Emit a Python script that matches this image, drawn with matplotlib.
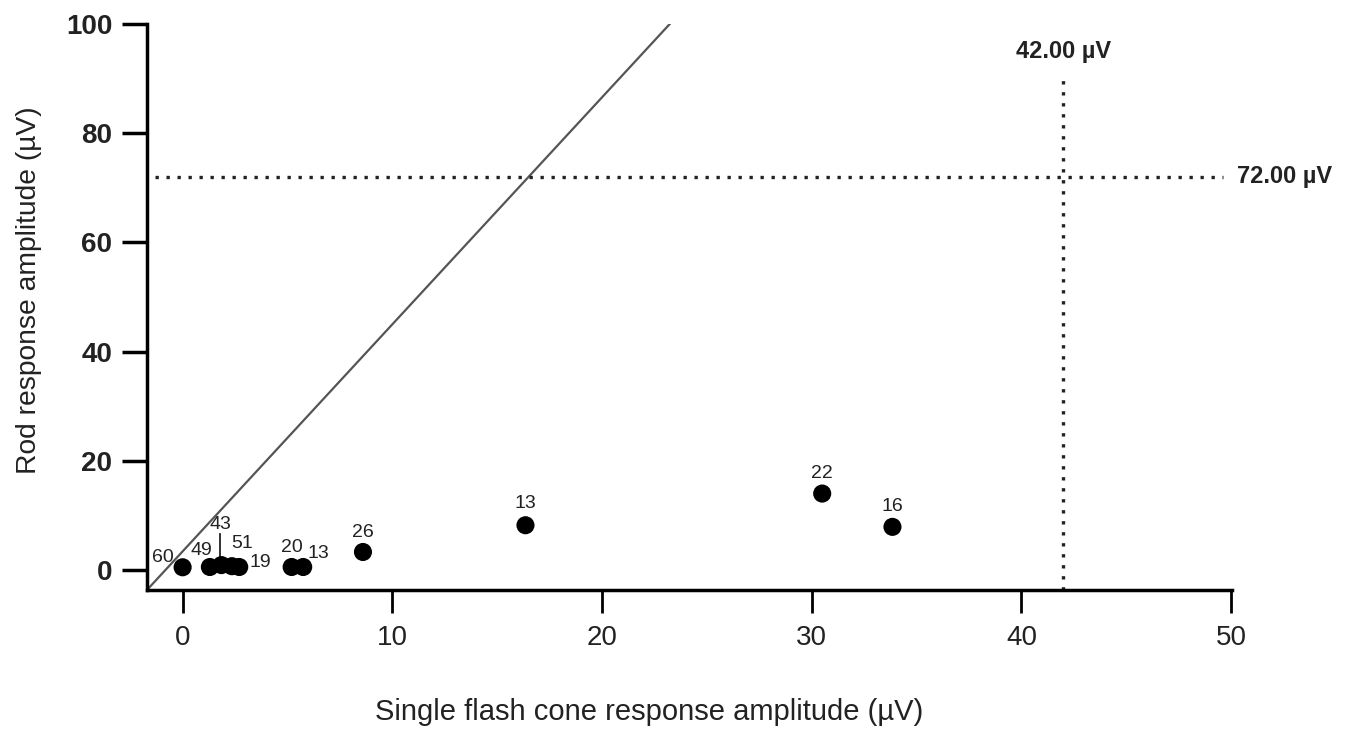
import numpy as np
import matplotlib
matplotlib.use('agg')
import matplotlib.pyplot as plt

plt.rcParams['font.family'] = ['Liberation Sans', 'DejaVu Sans']

## Data
cone_amp = [0.0, 1.3, 1.85, 2.35, 2.7, 5.2, 5.75, 8.6, 16.35, 30.5, 33.85]
rod_amp = [0.5, 0.55, 0.9, 0.7, 0.55, 0.55, 0.55, 3.3, 8.2, 14.0, 7.9]
ages = ['60', '49', '43', '51', '19', '20', '13', '26', '13', '22', '16']
# label offsets in points (dx, dy)
label_off = [(-14, 7), (-6, 12), (-1, 29), (7, 16.5), (15, 3), (0, 14), (11, 10),
             (0, 14), (0, 16), (0, 14.5), (0, 14.5)]

diag_x = [-1.7, 23.4]
diag_y = [-3.66, 100.7]

cone_limit = 42.0
rod_limit = 72.0

xticks = [0, 10, 20, 30, 40, 50]
yticks = [0, 20, 40, 60, 80, 100]

fig = plt.figure(figsize=(13.57, 7.31), dpi=100)
ax = fig.add_axes([0.1083, 0.1929, 0.7997, 0.7743])

ax.plot(diag_x, diag_y, color='#555555', lw=1.6, zorder=2)

# reference lines
ax.plot([-1.3, 49.6], [rod_limit, rod_limit], ls=(0, (1, 2.3)), color='#222222', lw=2.4)
ax.plot([cone_limit, cone_limit], [-3.66, 89.7], ls=(0, (1, 2.3)), color='#222222', lw=2.4)
ax.text(cone_limit, 95.0, '%.2f \u00b5V' % cone_limit, ha='center', va='center',
        fontsize=17, fontweight='bold', color='#222222')
ax.text(50.3, rod_limit, '%.2f \u00b5V' % rod_limit, ha='left', va='center',
        fontsize=17, fontweight='bold', color='#222222', clip_on=False)

ax.scatter(cone_amp, rod_amp, s=170, color='black', zorder=3, edgecolors='none')
for i in range(len(ages)):
    dx, dy = label_off[i]
    ax.annotate(ages[i], (cone_amp[i], rod_amp[i]), xytext=(dx, dy),
                textcoords='offset points', ha='center', va='center',
                fontsize=14, color='#222222')
# leader line for the '43' label
ax.plot([1.78, 1.78], [1.8, 6.6], color='#222222', lw=1.3)

ax.set_xlim(-1.7, 50.05)
ax.set_ylim(-3.66, 100)
ax.set_xticks(xticks)
ax.set_yticks(yticks)
ax.spines['top'].set_visible(False)
ax.spines['right'].set_visible(False)
ax.spines['left'].set_linewidth(2.5)
ax.spines['bottom'].set_linewidth(2.5)
ax.tick_params(axis='x', direction='out', length=16.5, width=2, labelsize=20, pad=9)
ax.tick_params(axis='y', direction='out', length=18, width=2.5, labelsize=20, pad=7)
for lab in ax.get_yticklabels():
    lab.set_fontweight('bold')
    lab.set_color('#222222')
for lab in ax.get_xticklabels():
    lab.set_color('#222222')

ax.set_xlabel('Single flash cone response amplitude (\u00b5V)', fontsize=21, color='#222222')
ax.set_ylabel('Rod response amplitude (\u00b5V)', fontsize=20.3, color='#222222')
ax.xaxis.set_label_coords(0.4627, -0.2155)
ax.yaxis.set_label_coords(-0.1088, 0.530)
ax.xaxis.label.set_va('center')
ax.yaxis.label.set_va('center')

plt.savefig('out.png', dpi=100)
